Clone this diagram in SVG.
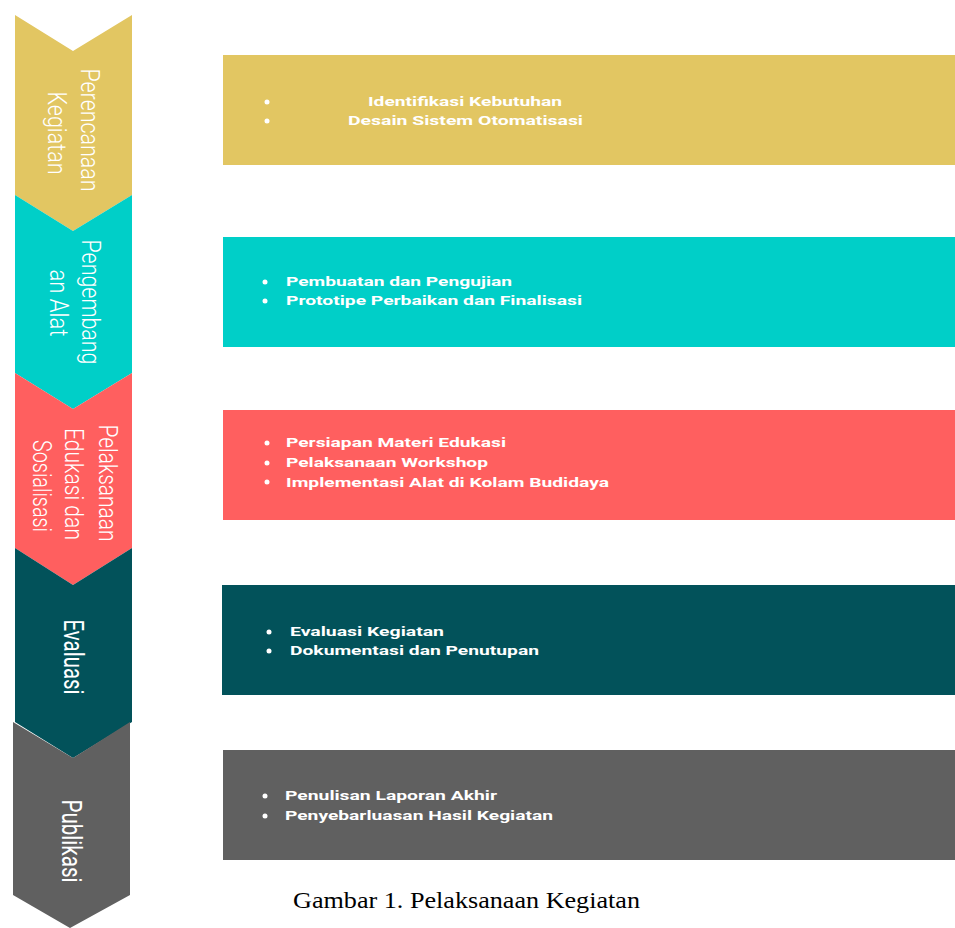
<svg xmlns="http://www.w3.org/2000/svg" width="955" height="928" viewBox="0 0 955 928">
<style>
.lbl{font-family:Roboto,"Liberation Sans",sans-serif;font-weight:300;fill:#FFFFFF;text-anchor:middle}
.lbl2{font-family:Roboto,"Liberation Sans",sans-serif;font-weight:400;fill:#FFFFFF;text-anchor:middle}
.itm{font-family:Roboto,"Liberation Sans",sans-serif;font-weight:700;font-size:13px;fill:#FFFFFF}
.bul{fill:#FFFFFF}
.cap{font-family:"Liberation Serif","Times New Roman",serif;font-size:24px;fill:#000000}
</style>
<rect x="0" y="0" width="955" height="928" fill="#FFFFFF"/>
<g id="connectors"></g>
<g id="stage1">
<polygon points="15,15 73,51 132,15 132,195 73,231 15,195" fill="#E2C662"/>
<text class="lbl" font-size="25" textLength="123" lengthAdjust="spacingAndGlyphs" transform="translate(81,130) rotate(90)">Perencanaan</text>
<text class="lbl" font-size="25" textLength="83" lengthAdjust="spacingAndGlyphs" transform="translate(48,133) rotate(90)">Kegiatan</text>
</g>
<g id="stage2">
<polygon points="15,195 73,231 132,195 132,373 73,409 15,373" fill="#00CFC8"/>
<text class="lbl" font-size="25" textLength="125" lengthAdjust="spacingAndGlyphs" transform="translate(82,302) rotate(90)">Pengembang</text>
<text class="lbl" font-size="25" textLength="67" lengthAdjust="spacingAndGlyphs" transform="translate(50,303) rotate(90)">an Alat</text>
</g>
<g id="stage3">
<polygon points="15,373 73,409 132,373 132,548 73,585 15,548" fill="#FF5F5F"/>
<text class="lbl" font-size="25" textLength="117" lengthAdjust="spacingAndGlyphs" transform="translate(99,483) rotate(90)">Pelaksanaan</text>
<text class="lbl" font-size="25" textLength="112" lengthAdjust="spacingAndGlyphs" transform="translate(65,484) rotate(90)">Edukasi dan</text>
<text class="lbl" font-size="25" textLength="92" lengthAdjust="spacingAndGlyphs" transform="translate(33,486) rotate(90)">Sosialisasi</text>
</g>
<g id="stage4">
<polygon points="15,548 73,585 132,548 132,722 73,758 15,722" fill="#02525A"/>
<text class="lbl2" font-size="28" textLength="75" lengthAdjust="spacingAndGlyphs" transform="translate(64,657) rotate(90)">Evaluasi</text>
</g>
<g id="stage5">
<polygon points="13,722 73,758 130,722 130,895 70,928 13,895" fill="#606060"/>
<text class="lbl2" font-size="28" textLength="83" lengthAdjust="spacingAndGlyphs" transform="translate(62,841) rotate(90)">Publikasi</text>
</g>
<g id="box1">
<rect x="223" y="55" width="732" height="110" fill="#E2C662"/>
<circle class="bul" cx="267" cy="102" r="2.5"/>
<circle class="bul" cx="267" cy="121" r="2.5"/>
<text class="itm" x="368" y="106" textLength="194" lengthAdjust="spacingAndGlyphs">Identifikasi Kebutuhan</text>
<text class="itm" x="348" y="125" textLength="235" lengthAdjust="spacingAndGlyphs">Desain Sistem Otomatisasi</text>
</g>
<g id="box2">
<rect x="223" y="237" width="732" height="110" fill="#00CFC8"/>
<circle class="bul" cx="265" cy="282" r="2.5"/>
<circle class="bul" cx="265" cy="301" r="2.5"/>
<text class="itm" x="286" y="286" textLength="226" lengthAdjust="spacingAndGlyphs">Pembuatan dan Pengujian</text>
<text class="itm" x="286" y="305" textLength="296" lengthAdjust="spacingAndGlyphs">Prototipe Perbaikan dan Finalisasi</text>
</g>
<g id="box3">
<rect x="223" y="410" width="732" height="110" fill="#FF5F5F"/>
<circle class="bul" cx="267" cy="443" r="2.5"/>
<circle class="bul" cx="267" cy="463" r="2.5"/>
<circle class="bul" cx="267" cy="482" r="2.5"/>
<text class="itm" x="286" y="447" textLength="220" lengthAdjust="spacingAndGlyphs">Persiapan Materi Edukasi</text>
<text class="itm" x="286" y="467" textLength="202" lengthAdjust="spacingAndGlyphs">Pelaksanaan Workshop</text>
<text class="itm" x="286" y="487" textLength="323" lengthAdjust="spacingAndGlyphs">Implementasi Alat di Kolam Budidaya</text>
</g>
<g id="box4">
<rect x="222" y="585" width="733" height="110" fill="#02525A"/>
<circle class="bul" cx="269" cy="632" r="2.5"/>
<circle class="bul" cx="269" cy="651" r="2.5"/>
<text class="itm" x="290" y="636" textLength="154" lengthAdjust="spacingAndGlyphs">Evaluasi Kegiatan</text>
<text class="itm" x="290" y="655" textLength="249" lengthAdjust="spacingAndGlyphs">Dokumentasi dan Penutupan</text>
</g>
<g id="box5">
<rect x="223" y="750" width="732" height="110" fill="#606060"/>
<circle class="bul" cx="265" cy="796" r="2.5"/>
<circle class="bul" cx="265" cy="816" r="2.5"/>
<text class="itm" x="285" y="800" textLength="212" lengthAdjust="spacingAndGlyphs">Penulisan Laporan Akhir</text>
<text class="itm" x="285" y="820" textLength="268" lengthAdjust="spacingAndGlyphs">Penyebarluasan Hasil Kegiatan</text>
</g>
<g id="caption">
<text class="cap" x="293" y="908" textLength="347" lengthAdjust="spacingAndGlyphs">Gambar 1. Pelaksanaan Kegiatan</text>
</g>
</svg>
